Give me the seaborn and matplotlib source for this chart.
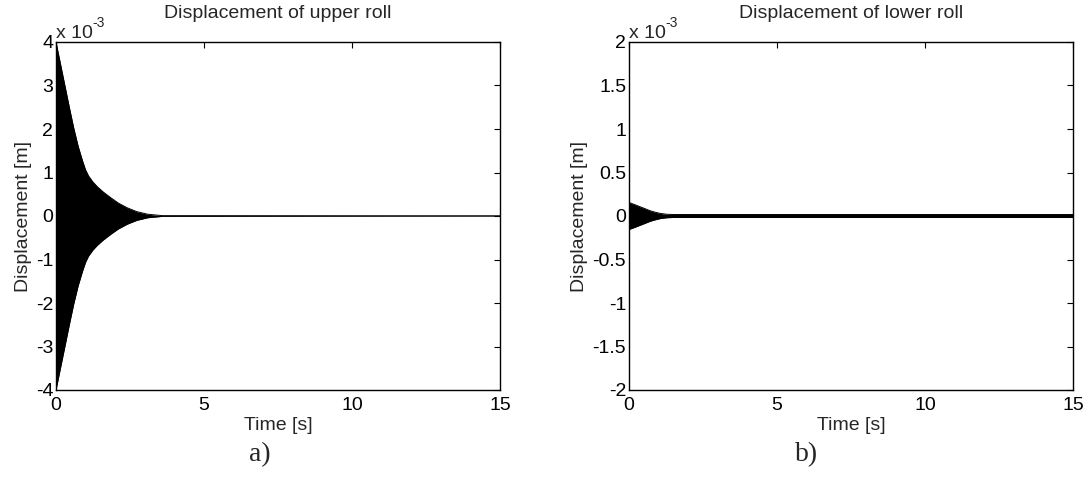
import numpy as np
import pandas as pd
import matplotlib
matplotlib.use("Agg")
import matplotlib.pyplot as plt
import seaborn as sns

# Envelope of the oscillating displacement (values in units of 1e-3 m)
t_upper = [0.0, 0.15, 0.3, 0.45, 0.6, 0.75, 0.9, 1.0, 1.1, 1.25, 1.4, 1.6, 1.85,
           2.1, 2.4, 2.73, 3.1, 3.6, 15.0]
env_upper = [4.0, 3.5, 3.0, 2.5, 2.02, 1.6, 1.26, 1.06, 0.92, 0.78, 0.67, 0.55, 0.42,
             0.3, 0.19, 0.1, 0.04, 0.008, 0.0]

t_lower = [0.0, 0.2, 0.37, 0.55, 0.71, 0.88, 1.05, 1.27, 1.5, 15.0]
env_lower = [0.155, 0.13, 0.107, 0.083, 0.061, 0.044, 0.03, 0.02, 0.017, 0.017]

titles = ["Displacement of upper roll", "Displacement of lower roll"]
y_limits = [(-4, 4), (-2, 2)]
y_ticks = [[-4, -3, -2, -1, 0, 1, 2, 3, 4], [-2, -1.5, -1, -0.5, 0, 0.5, 1, 1.5, 2]]
y_ticklabels = [["-4", "-3", "-2", "-1", "0", "1", "2", "3", "4"],
                ["-2", "-1.5", "-1", "-0.5", "0", "0.5", "1", "1.5", "2"]]
x_ticks = [0, 5, 10, 15]
x_ticklabels = ["0", "5", "10", "15"]
panel_labels = ["a)", "b)"]

sns.set_style("white")
plt.rcParams["font.family"] = ["Liberation Sans", "DejaVu Sans"]
plt.rcParams["axes.unicode_minus"] = False

fs = 14
fig = plt.figure(figsize=(10.92, 4.93), dpi=100)
W, H = 1092, 493
axes = [fig.add_axes([56 / W, (H - 390) / H, 444 / W, 348 / H]),
        fig.add_axes([629 / W, (H - 390) / H, 444 / W, 348 / H])]

series = [(t_upper, env_upper), (t_lower, env_lower)]
for i, ax in enumerate(axes):
    t, env = series[i]
    t = np.array(t)
    env = np.array(env)
    df = pd.DataFrame({"t": t, "up": env, "lo": -env})
    ax.fill_between(df["t"], df["lo"], df["up"], color="black", linewidth=0)
    sns.lineplot(data=df, x="t", y="up", ax=ax, color="black", linewidth=0.7,
                 estimator=None, sort=False)
    sns.lineplot(data=df, x="t", y="lo", ax=ax, color="black", linewidth=0.7,
                 estimator=None, sort=False)
    ax.set_xlim(0, 15)
    ax.set_ylim(*y_limits[i])
    ax.set_xticks(x_ticks)
    ax.set_xticklabels(x_ticklabels)
    ax.set_yticks(y_ticks[i])
    ax.set_yticklabels(y_ticklabels[i])
    ax.tick_params(direction="in", length=4, width=0.8, top=True, right=True,
                   labelsize=fs, pad=2, colors="black")
    ax.tick_params(axis="x", pad=5)
    for s in ax.spines.values():
        s.set_visible(True)
        s.set_color("black")
        s.set_linewidth(1.0)
    ax.set_xlabel("Time [s]", fontsize=fs, labelpad=2)
    ax.set_ylabel("Displacement [m]", fontsize=fs, labelpad=3)
    ax.set_title(titles[i], fontsize=fs, pad=17.5)
    ax.text(0.0, 1.0, "x 10", transform=ax.transAxes, fontsize=fs,
            ha="left", va="bottom")
    ax.annotate("-3", xy=(0.0, 1.0), xycoords="axes fraction",
                xytext=(36, 12), textcoords="offset pixels", fontsize=10,
                ha="left", va="bottom")
    ax.grid(False)

for k, xc in enumerate([260, 807]):
    fig.text(xc / W, 1 - 455 / H, panel_labels[k], fontsize=20,
             family=["Liberation Serif", "DejaVu Serif"], ha="center", va="center")

fig.savefig("out.png", dpi=100, facecolor="white")
